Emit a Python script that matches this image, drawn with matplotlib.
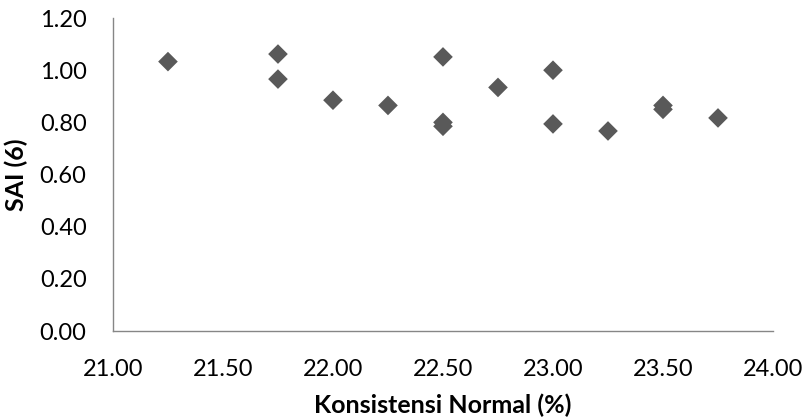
import matplotlib
matplotlib.use("Agg")
import matplotlib.pyplot as plt

# Normal consistency (%) vs. SAI (6)
konsistensi = [21.25, 21.75, 21.75, 22.00, 22.25, 22.50, 22.50, 22.50,
               22.75, 23.00, 23.00, 23.25, 23.50, 23.50, 23.75]
sai = [1.033, 1.062, 0.966, 0.885, 0.865, 1.051, 0.800, 0.785,
       0.934, 1.000, 0.794, 0.767, 0.865, 0.850, 0.817]

x_ticks = [21.00, 21.50, 22.00, 22.50, 23.00, 23.50, 24.00]
y_ticks = [0.00, 0.20, 0.40, 0.60, 0.80, 1.00, 1.20]

plt.rcParams['font.family'] = ['Lato', 'DejaVu Sans']

fig = plt.figure(figsize=(8.08, 4.20), dpi=100)
ax = fig.add_axes([0.1398, 0.2119, 0.8169, 0.7451])

ax.scatter(konsistensi, sai, marker='D', s=100, color='#595959',
           edgecolors='none', zorder=3)

ax.set_xlim(x_ticks[0], x_ticks[-1])
ax.set_ylim(y_ticks[0], y_ticks[-1])
ax.set_xticks(x_ticks)
ax.set_yticks(y_ticks)
ax.set_xticklabels([f"{v:.2f}" for v in x_ticks])
ax.set_yticklabels([f"{v:.2f}" for v in y_ticks])
ax.tick_params(axis='both', length=0, labelsize=17, colors='black')
ax.tick_params(axis='x', pad=20)
ax.tick_params(axis='y', pad=19)

for side in ('top', 'right'):
    ax.spines[side].set_visible(False)
for side in ('left', 'bottom'):
    ax.spines[side].set_color('#868686')
    ax.spines[side].set_linewidth(1.0)

ax.set_xlabel('Konsistensi Normal (%)', fontsize=18, fontweight='bold', labelpad=10)
ax.set_ylabel('SAI (6)', fontsize=18, fontweight='bold', labelpad=8.5)

fig.savefig('out.png', dpi=100)
